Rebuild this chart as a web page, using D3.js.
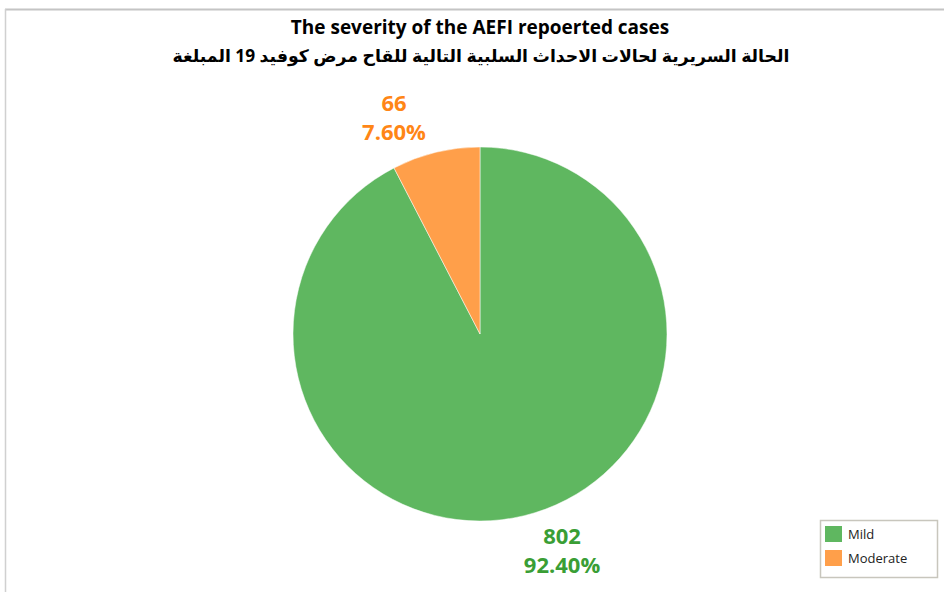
<!DOCTYPE html>
<html lang="en">
<head>
<meta charset="utf-8">
<title>AEFI severity</title>
<script src="https://d3js.org/d3.v7.min.js"></script>
<style>
  body { margin: 0; background: #fff; }
  svg text { font-family: "Open Sans", "DejaVu Sans", sans-serif; }
</style>
</head>
<body>
<div id="chart"></div>
<script>
// data
var categories = ["Mild", "Moderate"];
var counts = [802, 66];
var percents = ["92.40%", "7.60%"];
var colors = ["#5FB760", "#FF9F4A"];
var labelColors = ["#3A9E35", "#FF8616"];

var width = 944, height = 592;
var cx = 480, cy = 334, radius = 187;

var svg = d3.select("#chart").append("svg")
  .attr("width", width)
  .attr("height", height);

// frame (top and left edges visible)
svg.append("line").attr("x1", 5).attr("x2", width).attr("y1", 9.5).attr("y2", 9.5)
  .style("stroke", "#c4c4c4").style("stroke-width", 2);
svg.append("line").attr("x1", 5.5).attr("x2", 5.5).attr("y1", 9).attr("y2", height)
  .style("stroke", "#d0d0d0").style("stroke-width", 1.5);

// titles
svg.append("text").attr("x", 480).attr("y", 34)
  .attr("text-anchor", "middle")
  .style("font-size", "19px").style("font-weight", "bold")
  .text("The severity of the AEFI repoerted cases");
svg.append("text").attr("x", 481).attr("y", 62)
  .attr("text-anchor", "middle")
  .attr("direction", "rtl")
  .style("font-size", "17.3px").style("font-weight", "bold")
  .text("الحالة السريرية لحالات الاحداث السلبية التالية للقاح مرض كوفيد 19 المبلغة");

var pie = d3.pie().sort(null).value(function(d) { return d; });
var arc = d3.arc().innerRadius(0).outerRadius(radius);
var arcs = pie(counts);

var g = svg.append("g").attr("transform", "translate(" + cx + "," + cy + ")");
g.selectAll("path")
  .data(arcs)
  .enter()
  .append("path")
  .attr("d", arc)
  .style("fill", function(d, i) { return colors[i]; })
  .style("stroke", "#fff")
  .style("stroke-width", 0.5);

// data labels placed outside the slices (nudged like the original)
var lab = g.selectAll(".lbl")
  .data(arcs)
  .enter()
  .append("text")
  .attr("class", "lbl")
  .attr("text-anchor", "middle")
  .attr("transform", function(d, i) {
    var c = (i == 0) ? [82, 210] : [-86, -223];
    return "translate(" + c[0] + "," + c[1] + ")";
  })
  .style("font-size", "22px").style("font-weight", "bold")
  .style("fill", function(d, i) { return labelColors[i]; });
lab.append("tspan").attr("x", 0).attr("dy", 0).text(function(d, i) { return counts[i]; });
lab.append("tspan").attr("x", 0).attr("dy", 29).text(function(d, i) { return percents[i]; });

// legend
var legend = svg.append("g").attr("transform", "translate(820,520)");
legend.append("rect").attr("x", 0.5).attr("y", 0.5).attr("width", 117).attr("height", 57)
  .style("fill", "#fff").style("stroke", "#c8c6bd").style("stroke-width", 1.5);
var items = legend.selectAll(".item")
  .data(categories)
  .enter()
  .append("g")
  .attr("transform", function(d, i) { return "translate(5," + (6 + i * 24) + ")"; });
items.append("rect").attr("width", 17).attr("height", 16)
  .style("fill", function(d, i) { return colors[i]; });
items.append("text").attr("x", 23).attr("y", 13)
  .style("font-size", "13px").style("fill", "#222")
  .text(function(d) { return d; });
</script>
</body>
</html>
